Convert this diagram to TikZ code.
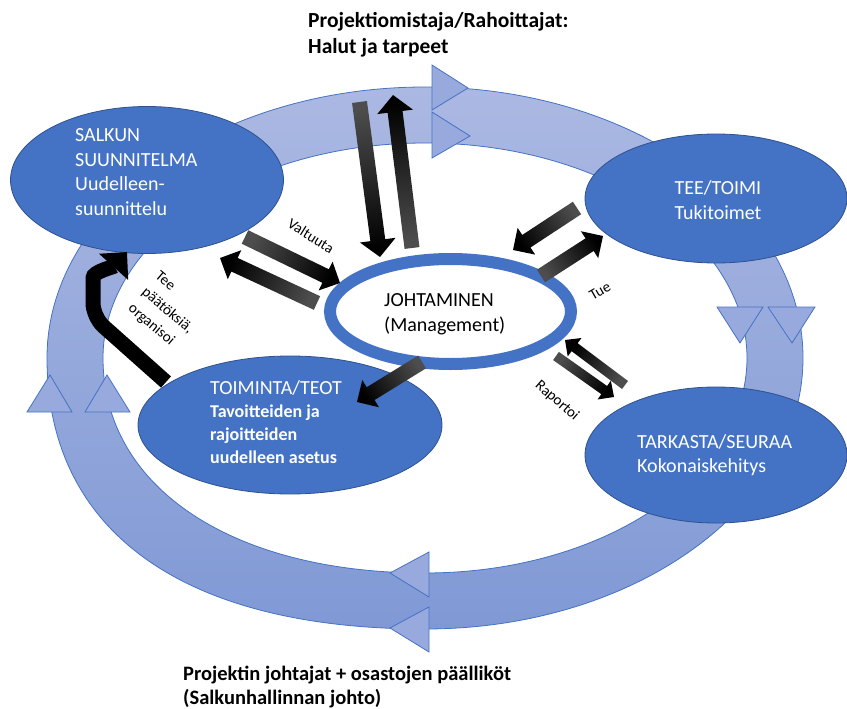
\documentclass[tikz,border=0pt]{standalone}
\usepackage{fontspec}
\setmainfont{Carlito}
\usetikzlibrary{calc,arrows.meta,shapes.geometric}

\definecolor{nodeblue}{HTML}{4472C4}
\definecolor{nodeedge}{HTML}{2F528F}
\definecolor{ringtop}{HTML}{ABB8E2}
\definecolor{ringbot}{HTML}{8099D5}
\definecolor{ringedge}{HTML}{4472C4}
\definecolor{trifill}{HTML}{98AADD}
\definecolor{arrgray}{HTML}{4D4D4D}

% block arrow from tail #1 to tip #2: half shaft width #3, half head width #4, head length #5 (pt)
\newcommand\blockarr[5]{%
  \pgfpointdiff{\pgfpointanchor{#1}{center}}{\pgfpointanchor{#2}{center}}%
  \pgfgetlastxy{\bax}{\bay}%
  \pgfmathsetmacro\baang{atan2(\bay,\bax)+90}%
  \shade[left color=arrgray, right color=black, shading angle=\baang]
    ($(#1)!#3pt!90:(#2)$)
    -- ($(#2)!#5pt!(#1)!#3pt!-90:(#1)$)
    -- ($(#2)!#5pt!(#1)!#4pt!-90:(#1)$)
    -- (#2)
    -- ($(#2)!#5pt!(#1)!#4pt!90:(#1)$)
    -- ($(#2)!#5pt!(#1)!#3pt!90:(#1)$)
    -- ($(#1)!#3pt!-90:(#2)$) -- cycle;}

% outer and inner edges of the cycle band (quarter curves, lower left a little fuller)
\newcommand\outeredge{(803,358) .. controls (803,507.7) and (633.8,629) .. (425,629)
  .. controls (183,629) and (47,531.4) .. (47,358)
  .. controls (47,208.3) and (216.2,87) .. (425,87)
  .. controls (633.8,87) and (803,208.3) .. (803,358) -- cycle}
\newcommand\inneredge{(747,358) .. controls (747,476.7) and (602.8,573) .. (425,573)
  .. controls (231.8,573) and (103,487) .. (103,358)
  .. controls (103,239.3) and (247.2,143) .. (425,143)
  .. controls (602.8,143) and (747,239.3) .. (747,358) -- cycle}

\tikzset{
  phase/.style={ellipse, fill=nodeblue, draw=nodeedge, line width=0.8pt, inner sep=0pt},
  hub/.style={ellipse, fill=white, draw=nodeblue, line width=12pt, inner sep=0pt},
  ringtri/.style={fill=trifill, draw=ringedge, line width=0.8pt},
  ringline/.style={draw=ringedge, line width=0.8pt},
  intext/.style={text=white, inner sep=0pt, align=left, font=\fontsize{20}{24.5}\selectfont},
  subtext/.style={text=white, inner sep=0pt, align=left, font=\fontsize{18}{23}\selectfont\bfseries},
  hubtext/.style={text=black, inner sep=0pt, align=left, font=\fontsize{20}{24.5}\selectfont},
  headline/.style={text=black, inner sep=0pt, align=left, font=\fontsize{21.5}{26}\selectfont\bfseries},
  lbl/.style={text=black, inner sep=0pt, font=\fontsize{15}{21}\selectfont},
  bentarrow/.style={line width=15pt, draw=black, rounded corners=14pt,
    -{Triangle[length=20pt,width=38pt]}}
}

\begin{document}
\begin{tikzpicture}[x=1pt,y=-1pt]
  \useasboundingbox (0,0) rectangle (847,709);
  \fill[white] (0,0) rectangle (847,709);

  % the cycle band
  \shade[even odd rule, top color=ringtop, bottom color=ringbot] \outeredge \inneredge;
  \path[ringline] \outeredge;
  \path[ringline] \inneredge;

  % direction marks on the band
  \filldraw[ringtri] (432,65) -- (468,88) -- (432,110) -- cycle;
  \filldraw[ringtri] (432,112) -- (470,136) -- (432,158) -- cycle;
  \filldraw[ringtri] (717,307) -- (763,307) -- (740,343) -- cycle;
  \filldraw[ringtri] (768,307) -- (815,307) -- (792,343) -- cycle;
  \filldraw[ringtri] (429,552) -- (429,597) -- (390,573) -- cycle;
  \filldraw[ringtri] (429,607) -- (429,652) -- (390,628) -- cycle;
  \filldraw[ringtri] (27,412) -- (72,412) -- (50,375) -- cycle;
  \filldraw[ringtri] (85,412) -- (130,412) -- (107,375) -- cycle;

  % phases
  \node[phase, minimum width=273pt, minimum height=147pt] (salkun) at (147,180) {};
  \node[phase, minimum width=262pt, minimum height=129pt] (teetoimi) at (716,198.5) {};
  \node[phase, minimum width=304pt, minimum height=138pt] (toiminta) at (290,425) {};
  \node[phase, minimum width=262pt, minimum height=136pt] (tarkasta) at (716,455) {};
  \node[hub, minimum width=241pt, minimum height=105pt] (johto) at (450.5,311.5) {};

  % decision arrow from TOIMINTA up to SALKUN
  \coordinate (teeS) at (166,382);
  \coordinate (teeB1) at (93,317);
  \coordinate (teeB2) at (93,292);
  \coordinate (teeE) at (127,252);
  \draw[bentarrow] (teeS) -- (teeB1) -- (teeB2) to[out=90,in=228] (teeE);

  % block arrows
  \coordinate (dnT) at (359.5,102);  \coordinate (dnH) at (380,257);
  \coordinate (upT) at (412,248);    \coordinate (upH) at (393,95);
  \coordinate (vaT) at (245,237);    \coordinate (vaH) at (340,283);
  \coordinate (vbT) at (317,303);    \coordinate (vbH) at (220,258);
  \coordinate (taT) at (577,208);    \coordinate (taH) at (513,250);
  \coordinate (tbT) at (541,276);    \coordinate (tbH) at (603,236);
  \coordinate (raT) at (625,385);    \coordinate (raH) at (565,340);
  \coordinate (rbT) at (556,356);    \coordinate (rbH) at (614,397);
  \coordinate (toT) at (422,362);    \coordinate (toH) at (357,402);

  \blockarr{dnT}{dnH}{7.5}{18}{17}
  \blockarr{upT}{upH}{7.5}{18}{17}
  \blockarr{vaT}{vaH}{7.5}{16}{16}
  \blockarr{vbT}{vbH}{7.5}{16}{16}
  \blockarr{taT}{taH}{7.5}{16}{16}
  \blockarr{tbT}{tbH}{7.5}{16}{16}
  \blockarr{raT}{raH}{5}{11.5}{12}
  \blockarr{rbT}{rbH}{5}{11.5}{12}
  \blockarr{toT}{toH}{7.5}{16}{16}

  % texts in the phases
  \node[intext, anchor=west] (salkuntxt) at (75,172) {SALKUN\\SUUNNITELMA\\Uudelleen-\\suunnittelu};
  \node[intext, anchor=center, align=center] (teetxt) at (718,200) {TEE/TOIMI\\Tukitoimet};
  \node[hubtext, anchor=west] (johtotxt) at (384,314) {JOHTAMINEN\\(Management)};
  \node[intext, anchor=base west] (toimtitle) at (210,394) {TOIMINTA/TEOT};
  \node[subtext, anchor=west] (toimtxt) at (210,434) {Tavoitteiden ja\\rajoitteiden\\uudelleen asetus};
  \node[intext, anchor=west] (tarktxt) at (637,455) {TARKASTA/SEURAA\\Kokonaiskehitys};

  % headlines
  \node[headline, anchor=west] (owners) at (308,35) {Projektiomistaja/Rahoittajat:\\Halut ja tarpeet};
  \node[headline, anchor=west, font=\fontsize{20.5}{23.5}\selectfont\bfseries] (leaders) at (183,687) {Projektin johtajat + osastojen päälliköt\\(Salkunhallinnan johto)};

  % arrow labels
  \node[lbl, rotate=-32] (valtuuta) at (311,236) {Valtuuta};
  \node[lbl, rotate=30] (tue) at (600,291) {Tue};
  \node[lbl, rotate=-41] (raportoi) at (557,401) {Raportoi};
  \node[lbl, rotate=-40, align=left] (teelbl) at (167,311) {Tee\\päätöksiä,\\organisoi};
\end{tikzpicture}
\end{document}
